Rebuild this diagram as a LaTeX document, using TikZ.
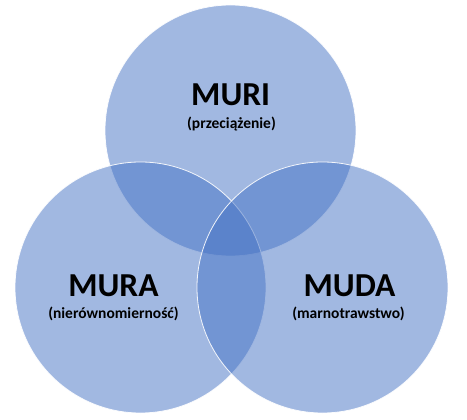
\documentclass[tikz,border=0pt]{standalone}
\usepackage{fontspec}
\setmainfont{Carlito}
\definecolor{accent}{HTML}{4472C4}
\begin{document}
\begin{tikzpicture}[x=1pt,y=-1pt,
  venn/.style={circle,minimum size=251pt,inner sep=0pt,fill=accent,fill opacity=0.5,draw=white,draw opacity=0.9,line width=0.8pt},
  title/.style={font=\bfseries\fontsize{33.5}{34}\selectfont,anchor=base,inner sep=0pt},
  sub/.style={font=\bfseries\fontsize{15.5}{16}\selectfont,anchor=base,inner sep=0pt}]
\useasboundingbox (0,0) rectangle (467,420);
\node[venn] (muri) at (230.5,130.5) {};
\node[venn] (mura) at (140.5,287.5) {};
\node[venn] (muda) at (322.5,287.5) {};
\node[title] (t1) at (230.7,106) {MURI};
\node[sub] (s1) at (231.5,129) {(przeciążenie)};
\node[title] (t2) at (113.5,297) {MURA};
\node[sub] (s2) at (113.5,319) {(nierównomierność)};
\node[title] (t3) at (349.5,297) {MUDA};
\node[sub] (s3) at (348.5,319) {(marnotrawstwo)};
\end{tikzpicture}
\end{document}
